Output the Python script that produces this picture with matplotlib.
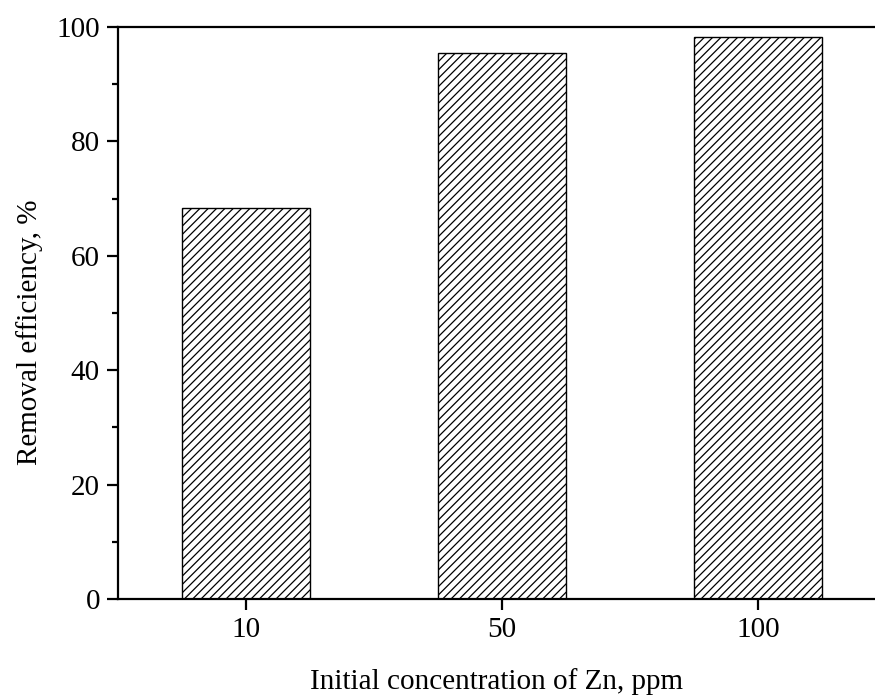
import matplotlib.pyplot as plt
from matplotlib.ticker import MultipleLocator

# Data
concentrations = ['10', '50', '100']
removal_efficiency = [68.3, 95.4, 98.3]

plt.rcParams['font.family'] = 'Liberation Serif'
plt.rcParams['hatch.linewidth'] = 0.9
plt.rcParams['hatch.color'] = '#555555'

fig = plt.figure(figsize=(8.75, 6.95), dpi=100)
ax = fig.add_axes([118 / 875, 96 / 695, (875 - 118) / 875, (599 - 27) / 695])

x = range(len(concentrations))
ax.bar(x, removal_efficiency, width=0.5, color='white', edgecolor='black',
       linewidth=1.0, hatch='////')

ax.set_xlim(-0.5, 2.457)
ax.set_ylim(0, 100)
ax.set_xticks(list(x))
ax.set_xticklabels(concentrations)
ax.yaxis.set_major_locator(MultipleLocator(20))
ax.yaxis.set_minor_locator(MultipleLocator(10))

ax.spines['right'].set_visible(False)
for s in ['left', 'top', 'bottom']:
    ax.spines[s].set_linewidth(1.6)

ax.tick_params(axis='both', which='major', direction='out', length=8, width=1.6,
               labelsize=21, pad=5)
ax.tick_params(axis='y', which='minor', direction='out', length=4, width=1.6)
ax.tick_params(axis='x', which='minor', bottom=False)

ax.set_xlabel('Initial concentration of Zn, ppm', fontsize=21, labelpad=18)
ax.set_ylabel('Removal efficiency, %', fontsize=21)
ax.yaxis.set_label_coords(-0.099, 0.467)

fig.savefig('out.png', dpi=100)
